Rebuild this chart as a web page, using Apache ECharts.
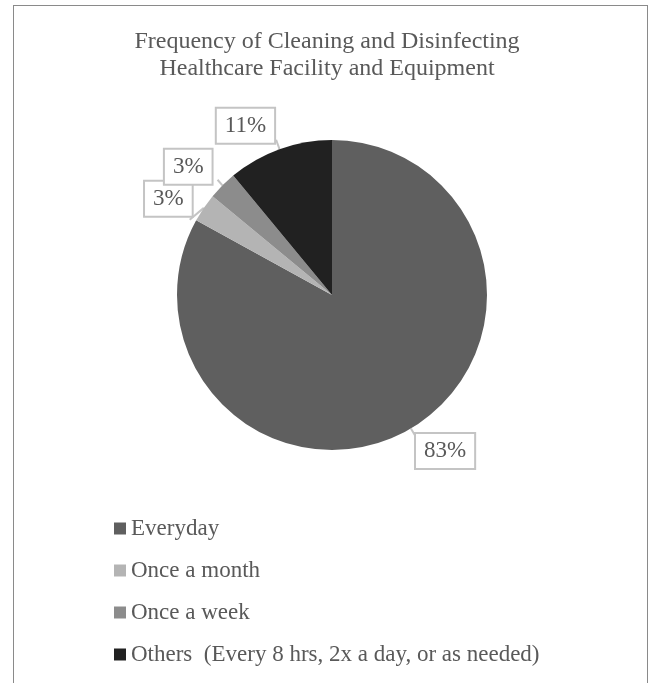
<!DOCTYPE html>
<html style="height: 100%">

<head>
    <meta charset="utf-8">
</head>

<body style="height: 100%; margin: 0; background: #fff">
    <div style="position: absolute; left: 13px; top: 5px; width: 633px; height: 700px; border: 1px solid #8a8a8a"></div>
    <div id="container" style="position: absolute; left: 0; top: 0; width: 654px; height: 683px"></div>
    <script type="text/javascript" src="https://cdn.jsdelivr.net/npm/echarts@6/dist/echarts.min.js"></script>
    <script type="text/javascript">
        // values (percent of respondents)
        var categories = ['Everyday', 'Once a month', 'Once a week', 'Others  (Every 8 hrs, 2x a day, or as needed)'];
        var values = [83, 3, 3, 11];
        var colors = ['#5f5f5f', '#b4b4b4', '#8c8c8c', '#212121'];

        var dom = document.getElementById("container");
        var myChart = echarts.init(dom);
        var font = '"Liberation Serif", "Times New Roman", serif';

        // nudges so the callout boxes sit where Excel put them
        var labelShift = [[-5, 14], [7, -21], [-1, -13], [3, -14]];

        var pieData = categories.map(function (name, i) {
            return {
                name: name,
                value: values[i],
                itemStyle: { color: colors[i] }
            };
        });

        var option = {
            animation: false,
            title: {
                text: 'Frequency of Cleaning and Disinfecting\nHealthcare Facility and Equipment',
                left: 'center',
                top: 23,
                textStyle: {
                    fontFamily: font,
                    fontSize: 24,
                    fontWeight: 'normal',
                    color: '#595959',
                    lineHeight: 27
                }
            },
            legend: {
                orient: 'vertical',
                left: 109,
                top: 512,
                icon: 'rect',
                itemWidth: 12,
                itemHeight: 12,
                itemGap: 19,
                selectedMode: false,
                textStyle: {
                    fontFamily: font,
                    fontSize: 23,
                    color: '#595959'
                },
                data: categories
            },
            series: [{
                type: 'pie',
                center: [332, 295],
                radius: 155,
                startAngle: 90,
                clockwise: true,
                data: pieData,
                label: {
                    show: true,
                    position: 'outside',
                    formatter: '{d}%',
                    fontFamily: font,
                    fontSize: 23,
                    color: '#595959',
                    backgroundColor: '#fff',
                    borderColor: '#c4c4c4',
                    borderWidth: 2,
                    padding: [6, 8, 5, 8]
                },
                labelLine: {
                    show: true,
                    length: 10,
                    length2: 0,
                    lineStyle: { color: '#c4c4c4', width: 2 }
                },
                labelLayout: function (params) {
                    var s = labelShift[params.dataIndex];
                    return { dx: s[0], dy: s[1] };
                },
                emphasis: { disabled: true }
            }]
        };

        myChart.setOption(option);
    </script>
</body>

</html>
